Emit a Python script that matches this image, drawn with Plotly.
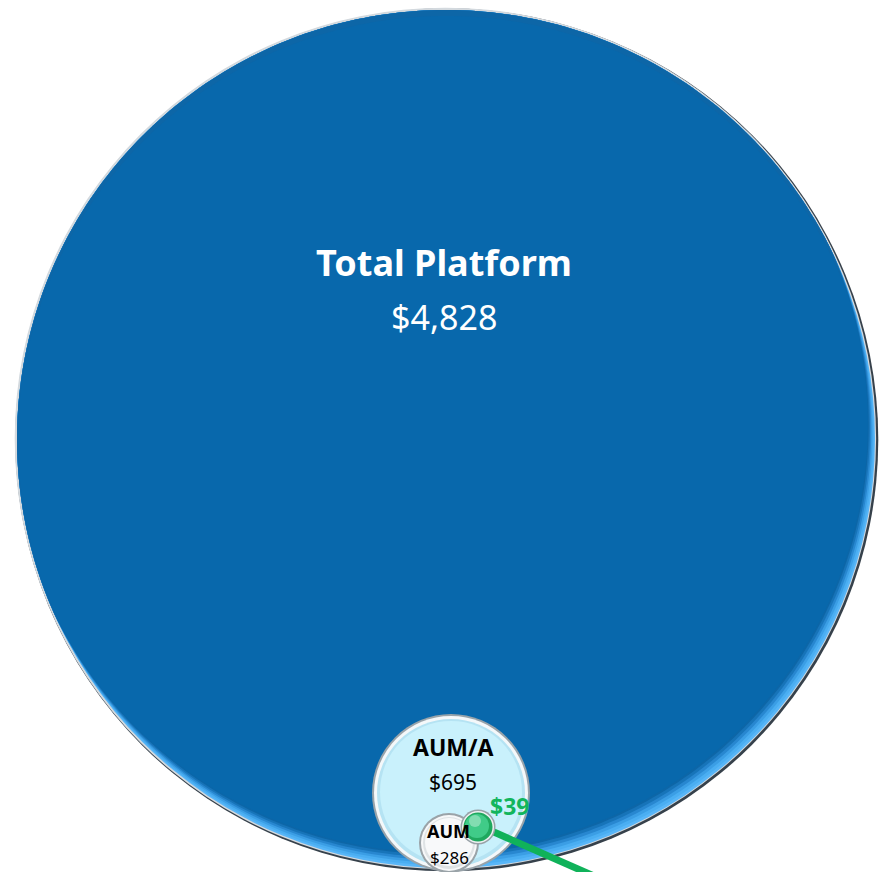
import math
import plotly.graph_objects as go

# ---- data ----
labels = ["Total Platform", "AUM/A", "AUM", ""]
values = [4828, 695, 286, 39]

# ---- layout geometry (pixel space) ----
W, H = 880, 872
centers = [(446, 439), (451, 793), (449, 843), (478, 827)]
radii = [431, 78, 29, 15]

fig = go.Figure()
fig.add_trace(go.Scatter(x=[0, W], y=[0, H], mode="markers",
                         marker=dict(opacity=0), hoverinfo="skip", showlegend=False))

shapes = []


def circ(cx, cy, r, fill, line_color="rgba(0,0,0,0)", lw=0):
    return dict(type="circle", xref="x", yref="y",
                x0=cx - r, x1=cx + r, y0=cy - r, y1=cy + r,
                fillcolor=fill, line=dict(color=line_color, width=lw), layer="above")


def ray_dist(cx, cy, ux, uy, ox, oy, R):
    dx, dy = cx - ox, cy - oy
    b = dx * ux + dy * uy
    c = dx * dx + dy * dy - R * R
    return -b + math.sqrt(max(b * b - c, 0))


def clipped_region(cx, cy, r, cuts, fill, n=360):
    pts = []
    for i in range(n):
        a = 2 * math.pi * i / n
        ux, uy = math.cos(a), math.sin(a)
        d = r
        for (sx, sy, R) in cuts:
            d = min(d, ray_dist(cx, cy, ux, uy, cx + sx, cy + sy, R))
        pts.append((cx + d * ux, cy + d * uy))
    path = "M " + " L ".join("%.2f,%.2f" % p for p in pts) + " Z"
    return dict(type="path", xref="x", yref="y", path=path, fillcolor=fill,
                line=dict(width=0, color="rgba(0,0,0,0)"), layer="above")


# big circle with rim lighting
cx, cy = centers[0]; r = radii[0]
shapes.append(circ(cx + 0.8, cy + 0.8, r + 0.5, "#36414b"))
shapes.append(circ(cx - 0.6, cy - 0.6, r - 0.3, "#d3d9de"))
R0 = r - 2
shapes.append(circ(cx, cy, R0, "#58b6f8"))
ux, uy = -0.42, -0.907
for k, col in [(3, "#4aaef2"), (6, "#3b9ee5"), (9, "#2887d0"), (12, "#1774b9"),
               (15, "#0d66a7")]:
    shapes.append(clipped_region(cx, cy, R0, [(ux * k, uy * k, R0)], col))
shapes.append(clipped_region(cx, cy, R0 - 1, [(ux * 17, uy * 17, R0), (0, 6, R0)], "#0868ac"))

# green line
gx, gy = centers[3]
line_x = [gx, gx + 140]
line_y = [gy - 2, gy - 2 + 140 * 0.44]

# AUM/A circle
cx, cy = centers[1]; r = radii[1]
shapes.append(circ(cx, cy, r + 1, "#98a3aa"))
shapes.append(circ(cx, cy, r - 1, "#f4f8fa"))
shapes.append(circ(cx, cy, r - 4, "#b5e3f3"))
shapes.append(circ(cx, cy - 1, r - 7, "#c9f1fc"))

# AUM circle
cx, cy = centers[2]; r = radii[2]
shapes.append(circ(cx, cy, r + 1, "#9aa3a8"))
shapes.append(circ(cx, cy, r - 1, "#f7f8f9"))
shapes.append(circ(cx, cy, r - 3, "#dfe3e5"))
shapes.append(circ(cx, cy - 1, r - 5, "#f8f9fa"))

shapes.append(dict(type="line", xref="x", yref="y",
                   x0=line_x[0], y0=line_y[0], x1=line_x[1], y1=line_y[1],
                   line=dict(color="#10b25a", width=7), layer="above"))

# green bubble
cx, cy = centers[3]; r = radii[3]
shapes.append(circ(cx, cy, r + 2.5, "#98a2a8"))
shapes.append(circ(cx, cy, r + 1, "#eef1f2"))
shapes.append(circ(cx, cy, r - 0.5, "#1fa85e"))
shapes.append(circ(cx - 1, cy - 1, r - 3, "#40cb88"))
shapes.append(circ(cx - 3, cy - 6, 6, "rgba(255,255,255,0.35)"))

annotations = []
font_fam = "Noto Sans, Open Sans, sans-serif"


def money(v):
    return "${:,}".format(v)


def ann(x, y, text, size, color):
    annotations.append(dict(x=x, y=y, xref="x", yref="y", text=text, showarrow=False,
                            font=dict(family=font_fam, size=size, color=color)))


ann(444, 262, "<b>%s</b>" % labels[0], 36, "white")
ann(444, 317, money(values[0]), 34, "white")
ann(453, 747, "<b>%s</b>" % labels[1], 23, "black")
ann(453, 782, money(values[1]), 21, "black")
ann(448, 831, "<b>%s</b>" % labels[2], 18, "black")
ann(449, 857, money(values[2]), 17, "black")
ann(509, 806, "<b>%s</b>" % money(values[3]), 23, "#12b55c")

fig.update_layout(
    width=W, height=H, margin=dict(l=0, r=0, t=0, b=0),
    paper_bgcolor="white", plot_bgcolor="white",
    xaxis=dict(range=[0, W], visible=False, fixedrange=True),
    yaxis=dict(range=[H, 0], visible=False, fixedrange=True),
    shapes=shapes, annotations=annotations, showlegend=False,
)

fig.write_html("out.html", config={"displayModeBar": False})
